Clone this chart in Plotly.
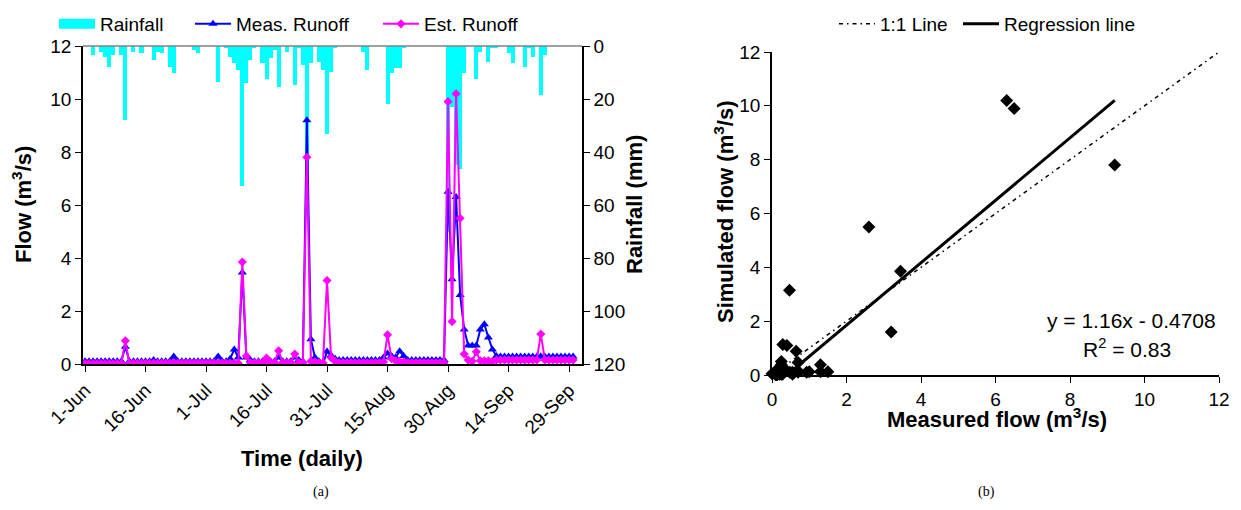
import datetime as dt
import plotly.graph_objects as go

W, H = 1241, 510

# ---------------- data ----------------
# daily values, 1-Jun (index 0) to 30-Sep (index 121)
rainfall_mm = [
    0, 0, 3.3, 0, 2.1, 4.2, 7.9, 3.3, 0, 3.3,
    27.8, 0, 2.1, 0, 2.6, 0, 0, 5.2, 2.1, 2.6,
    0, 7.9, 10.0, 0, 0, 0, 0, 1.4, 2.6, 0,
    0, 0, 0, 13.5, 0, 0.6, 4.0, 6.3, 8.9, 52.7,
    13.8, 5.2, 0.6, 0, 6.3, 12.3, 4.4, 1.4, 15.4, 0,
    2.1, 0, 14.6, 0.6, 7.0, 65.0, 6.3, 0, 5.9, 8.9,
    33.1, 9.7, 0.6, 0, 0, 0, 0, 0, 0, 2.1,
    8.9, 0, 0, 0, 0, 21.8, 10.0, 8.2, 8.2, 0.6,
    0, 0, 0, 0, 0, 0, 0, 0, 0, 0,
    70.0, 22.9, 45.0, 46.3, 10.0, 0, 0, 12.3, 2.1, 0,
    5.9, 0.6, 0.6, 0, 0, 2.6, 6.3, 0, 0, 7.8,
    0.6, 4.0, 0, 18.4, 3.3, 0, 0, 0, 0, 0,
    0, 0,
]

meas_runoff = [
    0.10, 0.10, 0.10, 0.10, 0.10, 0.10, 0.10, 0.10, 0.10, 0.10,
    0.65, 0.10, 0.10, 0.10, 0.10, 0.10, 0.10, 0.15, 0.10, 0.10,
    0.10, 0.10, 0.28, 0.10, 0.10, 0.10, 0.10, 0.10, 0.10, 0.10,
    0.10, 0.10, 0.10, 0.28, 0.10, 0.10, 0.20, 0.55, 0.25, 3.45,
    0.25, 0.15, 0.10, 0.10, 0.10, 0.15, 0.10, 0.10, 0.25, 0.10,
    0.10, 0.10, 0.25, 0.15, 0.10, 9.20, 0.93, 0.25, 0.10, 0.00,
    0.47, 0.33, 0.20, 0.15, 0.15, 0.15, 0.15, 0.15, 0.15, 0.15,
    0.15, 0.15, 0.15, 0.15, 0.25, 0.40, 0.30, 0.25, 0.48, 0.30,
    0.15, 0.15, 0.15, 0.15, 0.15, 0.15, 0.15, 0.15, 0.15, 0.15,
    6.50, 3.20, 6.30, 2.60, 1.30, 0.70, 0.70, 0.70, 1.30, 1.50,
    1.00, 0.55, 0.30, 0.28, 0.28, 0.28, 0.28, 0.28, 0.28, 0.28,
    0.28, 0.28, 0.28, 0.29, 0.28, 0.28, 0.28, 0.28, 0.28, 0.28,
    0.28, 0.28,
]

est_runoff = [
    0.02, 0.02, 0.02, 0.02, 0.02, 0.02, 0.02, 0.02, 0.02, 0.02,
    0.88, 0.03, 0.03, 0.03, 0.03, 0.03, 0.03, 0.03, 0.03, 0.03,
    0.03, 0.03, 0.05, 0.03, 0.03, 0.03, 0.03, 0.03, 0.03, 0.03,
    0.03, 0.03, 0.03, 0.03, 0.03, 0.03, 0.03, 0.03, 0.03, 3.85,
    0.30, 0.05, 0.05, 0.05, 0.05, 0.22, 0.05, 0.05, 0.50, 0.05,
    0.05, 0.05, 0.38, 0.05, 0.05, 7.80, 0.10, 0.08, 0.05, 0.05,
    3.15, 0.24, 0.10, 0.05, 0.05, 0.05, 0.05, 0.05, 0.05, 0.05,
    0.05, 0.05, 0.05, 0.05, 0.08, 1.10, 0.20, 0.12, 0.10, 0.08,
    0.05, 0.05, 0.05, 0.05, 0.05, 0.05, 0.05, 0.05, 0.05, 0.05,
    9.90, 1.60, 10.20, 5.50, 0.38, 0.15, 0.10, 0.46, 0.12, 0.12,
    0.12, 0.10, 0.15, 0.15, 0.15, 0.15, 0.15, 0.15, 0.15, 0.15,
    0.15, 0.15, 0.15, 1.13, 0.15, 0.15, 0.15, 0.15, 0.15, 0.15,
    0.15, 0.15,
]

tick_dates = ["2006-06-01", "2006-06-16", "2006-07-01", "2006-07-16", "2006-07-31",
              "2006-08-15", "2006-08-30", "2006-09-14", "2006-09-29"]
tick_labels = ["1-Jun", "16-Jun", "1-Jul", "16-Jul", "31-Jul",
               "15-Aug", "30-Aug", "14-Sep", "29-Sep"]
flow_ticks = [0, 2, 4, 6, 8, 10, 12]
rain_ticks = [0, 20, 40, 60, 80, 100, 120]

reg_slope = 1.16
reg_intercept = -0.4708
r_squared = 0.83
one_to_one = [0, 12]

# ---------------- derived ----------------
d0 = dt.date(2006, 6, 1)
dates = [(d0 + dt.timedelta(days=i)).isoformat() for i in range(len(meas_runoff))]

reg_x = [-reg_intercept / reg_slope, max(meas_runoff)]
reg_y = [reg_slope * v + reg_intercept for v in reg_x]

FONT = "Liberation Sans, Arial, sans-serif"


def px(p):
    return p / W


def py(p):
    return 1 - p / H


fig = go.Figure()

# rainfall bars (base axis, reversed, right side)
fig.add_trace(go.Bar(
    x=dates, y=rainfall_mm, width=86400000,
    marker=dict(color="#00FFFF", line=dict(width=0)),
    xaxis="x", yaxis="y", showlegend=False, hoverinfo="skip"))
# legend entry for rainfall
fig.add_trace(go.Scatter(
    x=[None], y=[None], mode="lines", name="Rainfall",
    line=dict(color="#00FFFF", width=12),
    xaxis="x", yaxis="y", legend="legend"))

fig.add_trace(go.Scatter(
    x=dates, y=meas_runoff, mode="lines+markers", name="Meas. Runoff",
    line=dict(color="#0000FF", width=2),
    marker=dict(symbol="triangle-up", size=8, color="#0000FF"),
    xaxis="x", yaxis="y2", legend="legend2"))
fig.add_trace(go.Scatter(
    x=dates, y=est_runoff, mode="lines+markers", name="Est. Runoff",
    line=dict(color="#FF00FF", width=2),
    marker=dict(symbol="diamond", size=7, color="#FF00FF"),
    xaxis="x", yaxis="y2", legend="legend3"))

# scatter panel
fig.add_trace(go.Scatter(
    x=one_to_one, y=one_to_one, mode="lines", name="1:1 Line",
    line=dict(color="black", width=1.5, dash="4px,4px,1.5px,4px"),
    xaxis="x2", yaxis="y3", legend="legend4"))
fig.add_trace(go.Scatter(
    x=reg_x, y=reg_y, mode="lines", name="Regression line",
    line=dict(color="black", width=3),
    xaxis="x2", yaxis="y3", legend="legend5"))
fig.add_trace(go.Scatter(
    x=meas_runoff, y=est_runoff, mode="markers",
    marker=dict(symbol="diamond", size=10, color="black"),
    xaxis="x2", yaxis="y3", showlegend=False, cliponaxis=False))

axis_common = dict(showgrid=False, zeroline=False, showline=True, linecolor="black",
                   linewidth=1.5, ticks="outside", ticklen=6, tickcolor="black",
                   tickfont=dict(family=FONT, size=19, color="black"))

legend_common = dict(orientation="h", xanchor="left", yanchor="middle",
                     bgcolor="rgba(0,0,0,0)", itemwidth=36,
                     font=dict(family=FONT, size=19, color="black"))

fig.update_layout(
    width=W, height=H,
    margin=dict(l=0, r=0, t=0, b=0, autoexpand=False),
    paper_bgcolor="white", plot_bgcolor="white",
    bargap=0,
    xaxis=dict(domain=[px(83), px(582)], type="date", anchor="y",
               range=["2006-05-31 12:00", "2006-10-02 05:00"],
               tickmode="array", tickvals=tick_dates, ticktext=tick_labels,
               tickangle=-45, **axis_common),
    yaxis=dict(domain=[py(364), py(46)], side="right", anchor="x",
               range=[120, 0], tickmode="array", tickvals=rain_ticks, **axis_common),
    yaxis2=dict(overlaying="y", side="left", anchor="x",
                range=[0, 12], tickmode="array", tickvals=flow_ticks, **axis_common),
    xaxis2=dict(domain=[px(772), px(1219)], anchor="y3", range=[0, 12],
                tickmode="array", tickvals=flow_ticks, **axis_common),
    yaxis3=dict(domain=[py(375), py(52)], anchor="x2", range=[0, 12],
                tickmode="array", tickvals=flow_ticks, **axis_common),
    legend=dict(x=px(54), y=py(24), **legend_common),
    legend2=dict(x=px(190), y=py(24), **legend_common),
    legend3=dict(x=px(378), y=py(24), **legend_common),
    legend4=dict(x=px(834), y=py(24), **legend_common),
    legend5=dict(x=px(958), y=py(24), **legend_common),
    showlegend=True,
)

# grey top line of the rainfall axis
fig.add_shape(type="line", xref="x domain", yref="y domain", x0=0, x1=1, y0=1, y1=1,
              line=dict(color="#808080", width=1.5))

title_font = dict(family=FONT, size=22, color="black")
ann = [
    dict(text="<b>Flow (m<sup>3</sup>/s)</b>", x=px(22), y=py(205), textangle=-90),
    dict(text="<b>Rainfall (mm)</b>", x=px(634), y=py(205), textangle=-90),
    dict(text="<b>Time (daily)</b>", x=px(302), y=py(458), textangle=0),
    dict(text="<b>Measured flow (m<sup>3</sup>/s)</b>", x=px(997), y=py(418), textangle=0),
    dict(text="<b>Simulated flow (m<sup>3</sup>/s)</b>", x=px(724), y=py(212), textangle=-90),
]
for a in ann:
    fig.add_annotation(xref="paper", yref="paper", showarrow=False,
                       xanchor="center", yanchor="middle", font=title_font, **a)

fig.add_annotation(xref="paper", yref="paper", showarrow=False, x=px(1218), y=py(320),
                   xanchor="right", yanchor="middle",
                   text=f"y = {reg_slope:.2f}x - {abs(reg_intercept):.4f}",
                   font=dict(family=FONT, size=21, color="black"))
fig.add_annotation(xref="paper", yref="paper", showarrow=False, x=px(1127), y=py(348),
                   xanchor="center", yanchor="middle",
                   text=f"R<sup>2</sup> = {r_squared:.2f}",
                   font=dict(family=FONT, size=21, color="black"))

for label, cx in [("(a)", 321), ("(b)", 986)]:
    fig.add_annotation(xref="paper", yref="paper", showarrow=False, x=px(cx), y=py(492),
                       xanchor="center", yanchor="middle", text=label,
                       font=dict(family="Liberation Serif, Times New Roman, serif", size=14,
                                 color="black"))

fig.write_html("out.html")
